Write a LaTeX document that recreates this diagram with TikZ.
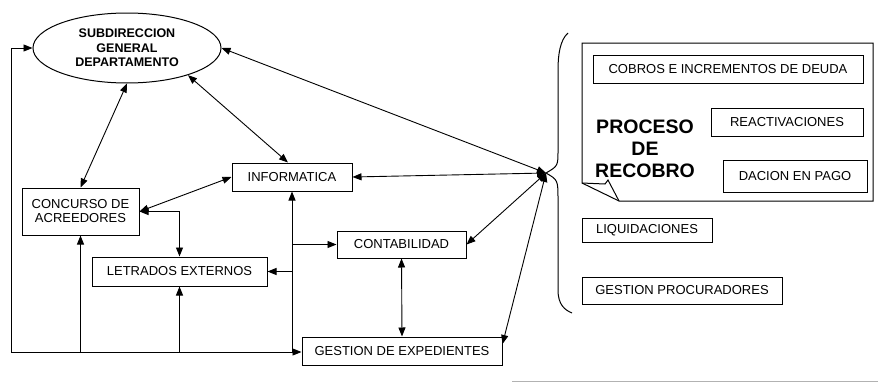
\documentclass[tikz,border=0pt]{standalone}
\usepackage{fontspec}
\setmainfont{Liberation Sans}
\usetikzlibrary{arrows.meta,shapes.geometric}

\begin{document}
\begin{tikzpicture}[x=1pt,y=-1pt,
  box/.style={draw,rectangle,inner sep=0pt,line width=1pt,
    font=\fontsize{13}{14}\selectfont,align=center},
  dbl/.style={{Triangle[length=9pt,width=7pt]}-{Triangle[length=9pt,width=7pt]},line width=0.9pt},
  sgl/.style={-{Triangle[length=9pt,width=7pt]},line width=0.9pt}]

\useasboundingbox (0,0) rectangle (878,383);

% Main units
\node[draw,ellipse,inner sep=0pt,line width=1pt,minimum width=188pt,minimum height=70pt,
  font=\bfseries\fontsize{12.5}{14.5}\selectfont,align=center] (sub) at (127,48)
  {SUBDIRECCION\\GENERAL\\DEPARTAMENTO};
\node[box,minimum width=117pt,minimum height=47pt] (conc) at (80.5,211.5) {CONCURSO DE\\ACREEDORES};
\node[box,minimum width=120pt,minimum height=28pt] (info) at (292,177) {INFORMATICA};
\node[box,minimum width=175pt,minimum height=29pt] (letr) at (179.5,271.5) {LETRADOS EXTERNOS};
\node[box,minimum width=129pt,minimum height=27pt] (cont) at (401.5,244.5) {CONTABILIDAD};
\node[box,minimum width=200pt,minimum height=28pt] (gest) at (402,351) {GESTION DE EXPEDIENTES};

% Recobro side
\draw[line width=1pt] (582,183) -- (582,43) -- (873,43) -- (873,201) -- (619,201) -- cycle;
\draw[line width=1pt] (582,183) -- (605,184) -- (608,180) -- (619,201);
\node[font=\bfseries\fontsize{19.5}{22}\selectfont,align=center] (proc) at (645,149) {PROCESO\\DE\\RECOBRO};
\node[box,minimum width=270pt,minimum height=28pt] (cobr) at (728,69) {COBROS E INCREMENTOS DE DEUDA};
\node[box,minimum width=152pt,minimum height=28pt] (reac) at (787,122) {REACTIVACIONES};
\node[box,minimum width=144pt,minimum height=32pt] (daci) at (795,176) {DACION EN PAGO};
\node[box,minimum width=130pt,minimum height=24pt] (liqu) at (647,230) {LIQUIDACIONES};
\node[box,minimum width=200pt,minimum height=27pt] (proc2) at (682,290.5) {GESTION PROCURADORES};

% Brace
\coordinate (hub) at (546,173);
\draw[line width=1pt] (568,33) .. controls (560,40) and (558,55) .. (558,70) -- (558,150)
  .. controls (558,166) .. (hub) .. controls (558,180) .. (558,200) -- (558,290)
  .. controls (558,305) and (565,310) .. (572,313);

% Links
\draw[dbl] (sub.south) -- (conc.north);
\draw[dbl] (sub.-24) -- ([xshift=-4pt]info.north);
\draw[dbl] (sub.east) -- (hub);
\draw[dbl] (info.east) -- (hub);
\draw[dbl] (cont.east) -- (hub);
\draw[dbl] (hub) -- ([yshift=7pt]gest.east);
\draw[dbl] (conc.east) -- (info.west);
\draw[dbl] (conc.east) -| (letr.north);
\draw[dbl] (cont.south) -- (gest.north);

% Return lines
\coordinate (bl) at (11,352);
\draw[sgl] (bl) |- (sub.west);
\draw[sgl] (bl) -- (bl -| gest.west);
\draw[sgl] (conc.south |- bl) -- (conc.south);
\draw[sgl] (letr.south |- bl) -- (letr.south);
\draw[sgl] (info.south |- bl) -- (info.south);
\draw[sgl] (info.south |- cont.west) -- (cont.west);
\draw[sgl] (info.south |- letr.east) -- (letr.east);

% Scan line
\draw[gray!60,line width=0.6pt] (512,381) -- (878,381);

\end{tikzpicture}
\end{document}
